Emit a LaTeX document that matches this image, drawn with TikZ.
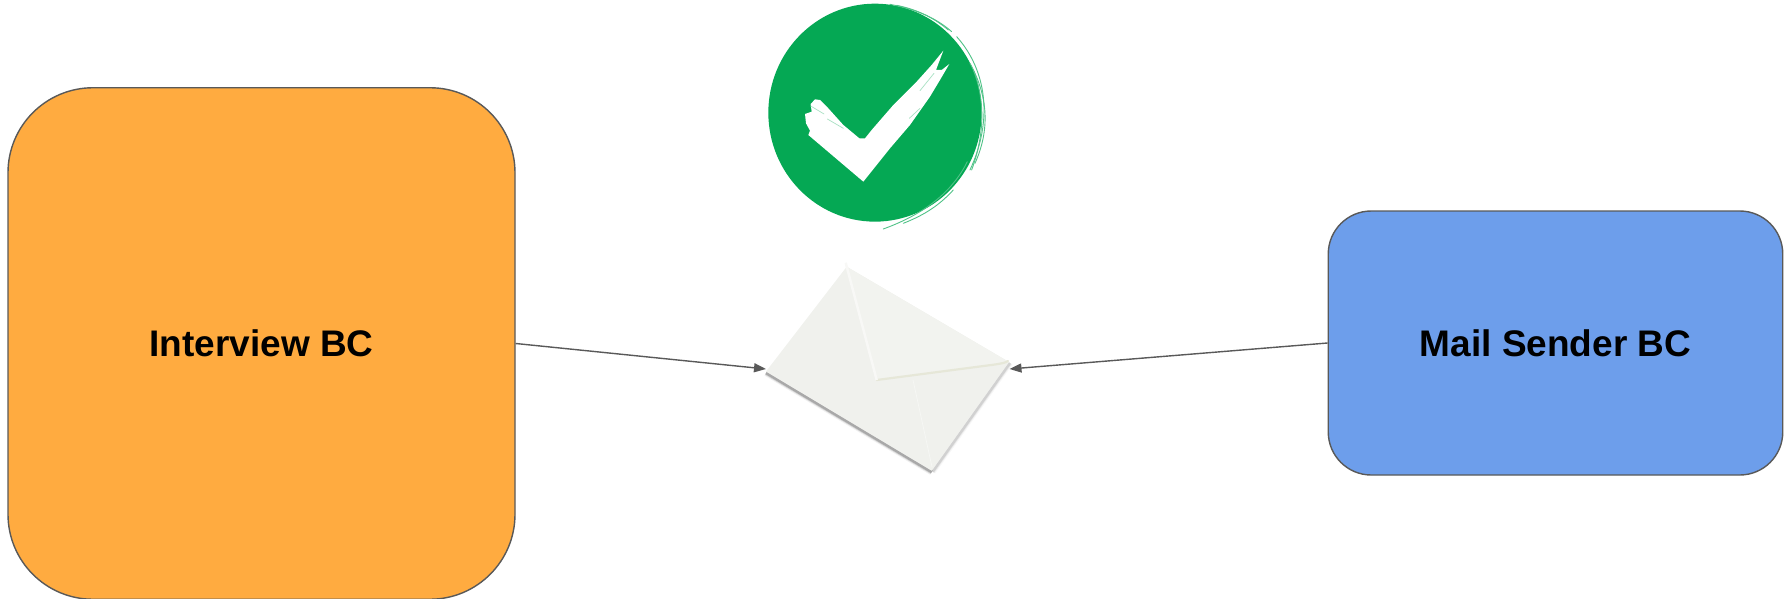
\documentclass[tikz,border=0pt]{standalone}
\usepackage{fontspec}
\setmainfont{Liberation Sans}
\usetikzlibrary{arrows.meta}
\definecolor{boxline}{HTML}{595959}
\definecolor{orangefill}{HTML}{FFAB40}
\definecolor{bluefill}{HTML}{6D9EEB}
\definecolor{okgreen}{HTML}{05A854}
\definecolor{envA}{HTML}{F0F1ED}
\definecolor{envB}{HTML}{F2F3EF}
\definecolor{envC}{HTML}{E6E7D8}
\tikzset{
  bc/.style={draw=boxline,line width=1.4pt,inner sep=0pt,text=black,
    font=\fontsize{37}{40}\selectfont\bfseries},
  link/.style={draw=boxline,line width=1.4pt,-{Triangle[length=12pt,width=9pt]}},
  brush/.style={draw=okgreen!70!white,line width=0.9pt,line cap=round},
  streak/.style={draw=okgreen!35!white,line width=0.7pt,line cap=round},
}
\begin{document}
\begin{tikzpicture}[x=1pt,y=-1pt]
\useasboundingbox (0,0) rectangle (1791,599);
\clip (0,0) rectangle (1791,599);
% boxes
\node[bc,fill=orangefill,rounded corners=85pt,minimum width=507pt,minimum height=511.5pt] (interview) at (261.5,343.5) {\raisebox{-1pt}{Interview BC}};
\node[bc,fill=bluefill,rounded corners=43pt,minimum width=454.5pt,minimum height=264pt] (mail) at (1555.5,343) {\raisebox{-1pt}{Mail Sender BC}};
% check badge
\begin{scope}[shift={(740,0)},x=0.3333pt,y=-0.3333pt]
  \fill[okgreen] (405,338) ellipse [x radius=320,y radius=327];
  \draw[brush] (450,13) .. controls (530,28) and (590,55) .. (635,95);
  \draw[brush] (470,16) .. controls (540,30) and (590,60) .. (625,90);
  \draw[brush] (650,110) .. controls (740,210) and (760,360) .. (690,510);
  \draw[brush] (690,190) .. controls (745,290) and (750,390) .. (705,490);
  \draw[brush] (700,210) .. controls (735,300) and (735,400) .. (695,510);
  \draw[brush] (682,485) .. controls (640,570) and (560,640) .. (430,687);
  \draw[brush] (640,570) .. controls (590,625) and (540,650) .. (490,670);
\end{scope}
\begin{scope}[shift={(800,40)},x=0.3333pt,y=-0.3333pt]
  \fill[white] (430,32) -- (395,75) -- (350,125) -- (280,195) -- (215,270)
    -- (195,295) -- (178,295) -- (130,255) -- (85,205) -- (60,180) -- (45,178)
    -- (32,192) -- (35,215) -- (15,222) -- (18,250) -- (30,272) -- (25,285)
    -- (190,425) -- (270,325) -- (330,255) -- (390,170) -- (420,120) -- (448,72)
    -- (425,90) -- (408,90) -- cycle;
  \draw[streak] (32,198) -- (72,222);
  \draw[streak] (82,237) -- (130,265);
  \draw[streak] (360,152) -- (402,100);
  \draw[streak] (328,235) -- (360,205);
\end{scope}
% envelope
\coordinate (envTop) at (846.7,266.7);
\coordinate (envR) at (1009,362);
\coordinate (envBot) at (931.7,470.7);
\coordinate (envL) at (766,371.5);
\coordinate (flap) at (876.7,380);
\coordinate (tipL) at (766,369);
\coordinate (tipR) at (1009.5,369);
\foreach \w/\o in {6/0.06,4/0.12,2.5/0.2}{
  \draw[black,opacity=\o,line width=\w pt] ([yshift=-1.5pt]envL) -- ([yshift=-1.5pt]envBot);
  \draw[black,opacity=0.5*\o,line width=\w pt] ([xshift=1pt,yshift=-1pt]envBot) -- ([xshift=1pt,yshift=-1pt]envR);
}
\fill[envA] (envTop) -- (envR) -- (envBot) -- (envL) -- cycle;
\fill[envB] (envTop) -- (envR) -- (flap) -- cycle;
\draw[envC,line width=2.2pt,line cap=round] (flap) -- (995,364.5) .. controls (1001,363.5) and (1005,363) .. (1008,361);
\draw[white!50!envA,line width=2.5pt] ([xshift=-1pt,yshift=4pt]envTop) -- (flap);
\draw[white!40!envA,line width=0.8pt] (913,380) -- (932,467);
% connectors
\draw[link] (interview.east) -- (tipL);
\draw[link] (mail.west) -- (tipR);
\end{tikzpicture}
\end{document}
